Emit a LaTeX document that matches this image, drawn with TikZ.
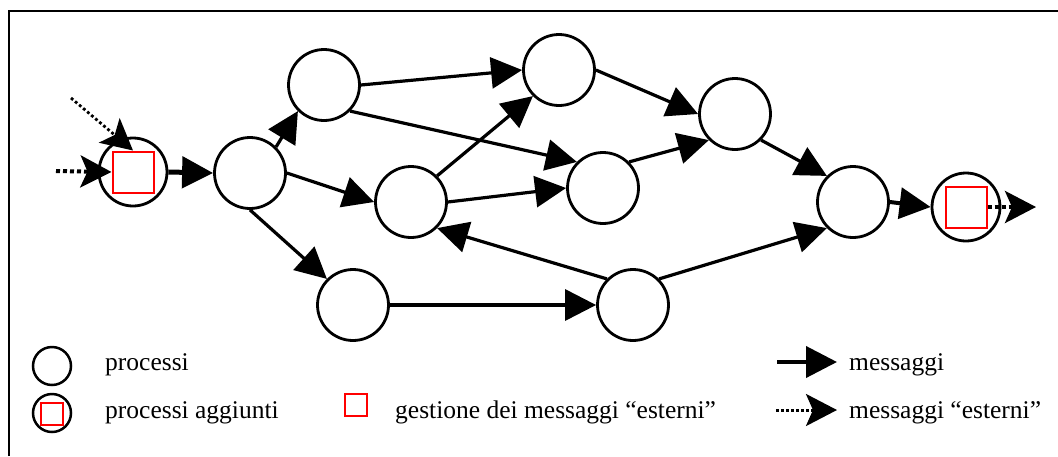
\documentclass[tikz,border=0pt]{standalone}
\usepackage{fontspec}
\setmainfont{Liberation Serif}
\usetikzlibrary{arrows.meta}
\begin{document}
\begin{tikzpicture}[x=1pt,y=-1pt,
  proc/.style={circle,draw,line width=2.8pt,minimum size=71pt,inner sep=0pt,fill=white},
  addproc/.style={proc,minimum size=68pt},
  gate/.style={rectangle,draw=red,line width=2pt,minimum size=41pt,inner sep=0pt},
  msg/.style={line width=3.2pt,-{Triangle[length=31pt,width=31pt]}},
  extmsg/.style={line width=4pt,dash pattern=on 4pt off 3pt,-{Stealth[length=31pt,width=32pt,inset=7pt]}},
  lbl/.style={anchor=base west,inner sep=0pt,font=\fontsize{25.5}{30}\selectfont}]
\useasboundingbox (0,0) rectangle (1058,456);
% frame
\draw[line width=1.5pt] (9,456) -- (9,11) -- (1058,11);

% processes
\node[addproc] (A) at (133,172) {};
\node[gate] (ga) at (133,172) {};
\node[proc] (B) at (250,173) {};
\node[proc] (C) at (324,85) {};
\node[proc] (D) at (411,202) {};
\node[proc] (E) at (559,70) {};
\node[proc] (F) at (603,188) {};
\node[proc] (G) at (735,114) {};
\node[proc] (H) at (853,202) {};
\node[addproc] (I) at (966,207) {};
\node[gate] (gi) at (966,207) {};
\node[proc] (J) at (353,305) {};
\node[proc] (K) at (633,305) {};

% messages
\draw[msg,line width=5pt] (A.east) -- (B.west);
\draw[msg] (B.45) -- (C.225);
\draw[msg] (B.east) -- (D.west);
\draw[msg] (B.south) -- (J.135);
\draw[msg] (C.east) -- (E.west);
\draw[msg] (C.-45) -- (F.135);
\draw[msg] (D.45) -- (E.225);
\draw[msg] (D.east) -- (F.west);
\draw[msg] (E.east) -- (G.west);
\draw[msg] (F.45) -- (G.225);
\draw[msg] (G.-45) -- (H.135);
\draw[msg] (K.135) -- (D.-45);
\draw[msg] (K.45) -- (H.225);
\draw[msg] (J.east) -- (K.west);
\draw[msg,line width=4pt] (H.east) -- (I.west);

% external messages
\coordinate (inL) at (56,171);
\coordinate (inT) at (71,98);
\coordinate (outR) at (1036,207);
\draw[extmsg] (inL) -- (ga.west);
\draw[extmsg,line width=2.8pt,dash pattern=on 2.8pt off 2.5pt] (inT) -- (ga.north);
\draw[extmsg] (gi.east) -- (outR);

% legend
\node[proc,minimum size=38pt,line width=2.5pt] (lp) at (52,366) {};
\node[proc,minimum size=38pt,line width=2.5pt] (la) at (52,413) {};
\node[gate,minimum size=22pt] (lag) at (52,414) {};
\node[gate,minimum size=22pt] (lg) at (356,405) {};
\node[lbl] (t1) at (105,370) {processi};
\node[lbl] (t2) at (105,418) {processi aggiunti};
\node[lbl] (t3) at (395,418) {gestione dei messaggi “esterni”};
\node[lbl] (t4) at (849,370) {messaggi};
\node[lbl] (t5) at (849,418) {messaggi “esterni”};
\coordinate (m1s) at (777,362);
\coordinate (m1e) at (837,362);
\coordinate (m2s) at (776,410);
\coordinate (m2e) at (837,410);
\draw[msg,line width=4pt] (m1s) -- (m1e);
\draw[extmsg,line width=3pt,dash pattern=on 3pt off 2pt] (m2s) -- (m2e);
\end{tikzpicture}
\end{document}
